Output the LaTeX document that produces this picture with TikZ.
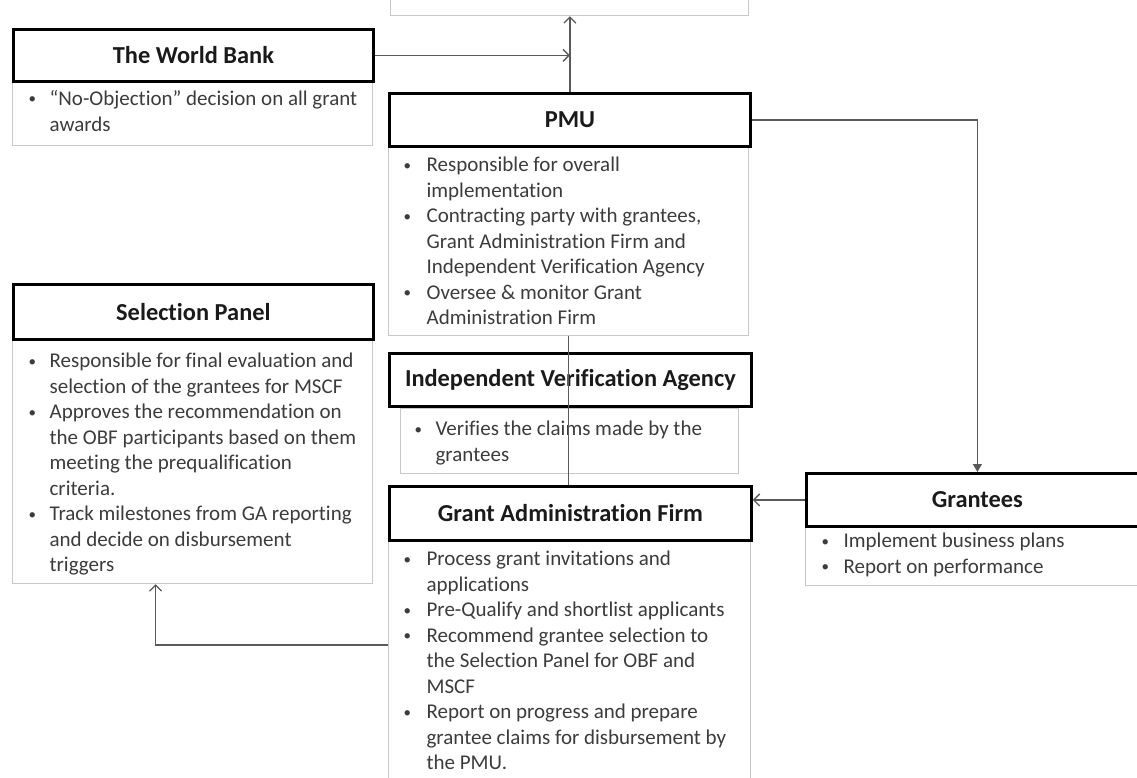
\documentclass[tikz,border=0pt]{standalone}
\usepackage{fontspec}
\setmainfont{Carlito}[Ligatures={NoCommon}]
\usetikzlibrary{arrows.meta}

\definecolor{bodyink}{HTML}{3C3C3C}
\definecolor{headink}{HTML}{1A1A1A}
\definecolor{rimgray}{HTML}{C8C8C8}
\definecolor{wire}{HTML}{5A5A5A}

% bullet list inside a fixed-size box
\newlength\bpre
\newlength\bhang
\newcommand\dotmark{\raisebox{1.6pt}{\fontsize{15}{15}\selectfont\textbullet}}
\newcommand\bul[1]{\par\hangindent=\bhang\hangafter=1\noindent\firstline
  \hbox to\bhang{\hskip\bpre\dotmark\hfil}\ignorespaces#1\par\let\firstline\relax}
% #1 width, #2 height, #3 first baseline, #4 bullet indent, #5 text indent, #6 items
\newcommand\blist[6]{%
  \parbox[c][#2][t]{#1}{\setlength\bpre{#4}\setlength\bhang{#5}%
    \def\firstline{\rule{0pt}{#3}}%
    \fontsize{21}{25.5}\selectfont\color{bodyink}%
    \rightskip=0pt plus 1fil\parindent=0pt\parskip=0pt #6}}

\tikzset{
  hdr/.style={draw=black, line width=2.8pt, fill=white, inner sep=0pt,
    anchor=north west, text=headink, font=\fontsize{24.4}{28}\selectfont\bfseries},
  bodybox/.style={draw=rimgray, line width=1.2pt, fill=white, inner sep=0pt,
    anchor=north west},
  conn/.style={draw=wire, line width=1.3pt},
  barb/.style={conn, -{Straight Barb[length=6pt,width=12pt]}},
  solidtip/.style={conn, -{Triangle[length=8pt,width=9pt]}}
}

\begin{document}
\begin{tikzpicture}[x=1pt,y=-1pt]
\clip (0,0) rectangle (1137,778);
\fill[white] (0,0) rectangle (1137,778);

% box above the PMU, running off the top edge
\node[bodybox, minimum width=358pt, minimum height=75pt] (top) at (390,-60) {};

% The World Bank
\node[bodybox] (wbb) at (12,80)
  {\blist{360pt}{65pt}{25pt}{16pt}{37pt}{%
    \bul{“No-Objection” decision on all grant\newline awards}}};
\node[hdr, minimum width=360pt, minimum height=52pt] (wbh) at (12,28) {The World Bank};

% PMU
\node[bodybox] (pmub) at (388,145)
  {\blist{360pt}{190pt}{26pt}{15pt}{38pt}{%
    \bul{Responsible for overall\newline implementation}
    \bul{Contracting party with grantees,\newline Grant Administration Firm and\newline Independent Verification Agency}
    \bul{Oversee \& monitor Grant\newline Administration Firm}}};
\node[hdr, minimum width=361pt, minimum height=53pt] (pmuh) at (388,92) {PMU};

% Selection Panel
\node[bodybox] (spb) at (12,338)
  {\blist{360pt}{245pt}{29pt}{16pt}{37pt}{%
    \bul{Responsible for final evaluation and\newline selection of the grantees for MSCF}
    \bul{Approves the recommendation on\newline the OBF participants based on them\newline meeting the prequalification\newline criteria.}
    \bul{Track milestones from GA reporting\newline and decide on disbursement\newline triggers}}};
\node[hdr, minimum width=360pt, minimum height=55pt] (sph) at (12,283) {Selection Panel};

% Independent Verification Agency
\node[bodybox] (ivab) at (400,408)
  {\blist{338pt}{65pt}{27pt}{14pt}{35pt}{%
    \bul{Verifies the claims made by the\newline grantees}}};
\node[hdr, minimum width=362pt, minimum height=53pt] (ivah) at (388,352) {Independent Verification Agency};

% Grant Administration Firm
\node[bodybox] (gafb) at (388,539)
  {\blist{362pt}{260pt}{26pt}{15pt}{38pt}{%
    \bul{Process grant invitations and\newline applications}
    \bul{Pre-Qualify and shortlist applicants}
    \bul{Recommend grantee selection to\newline the Selection Panel for OBF and\newline MSCF}
    \bul{Report on progress and prepare\newline grantee claims for disbursement by\newline the PMU.}}};
\node[hdr, minimum width=362pt, minimum height=54pt] (gafh) at (388,485) {Grant Administration Firm};

% Grantees
\node[bodybox] (grb) at (805,525)
  {\blist{342pt}{60pt}{22pt}{16pt}{38pt}{%
    \bul{Implement business plans}
    \bul{Report on performance}}};
\node[hdr, minimum width=342pt, minimum height=53pt] (grh) at (805,472) {Grantees};

% connectors
\draw[barb] (wbh.east) -- (wbh.east -| pmuh.north);
\draw[barb] (pmuh.north) -- (pmuh.north |- top.south);
\draw[solidtip] (pmuh.east) -| (grh.north);
\draw[conn] (pmub.south) -- (pmub.south |- gafh.north);
\draw[barb] (grh.west) -- (grh.west -| gafh.east);
\draw[barb] ([yshift=-106pt]gafb.north west) -| ([xshift=-37pt]spb.south);
\end{tikzpicture}
\end{document}
